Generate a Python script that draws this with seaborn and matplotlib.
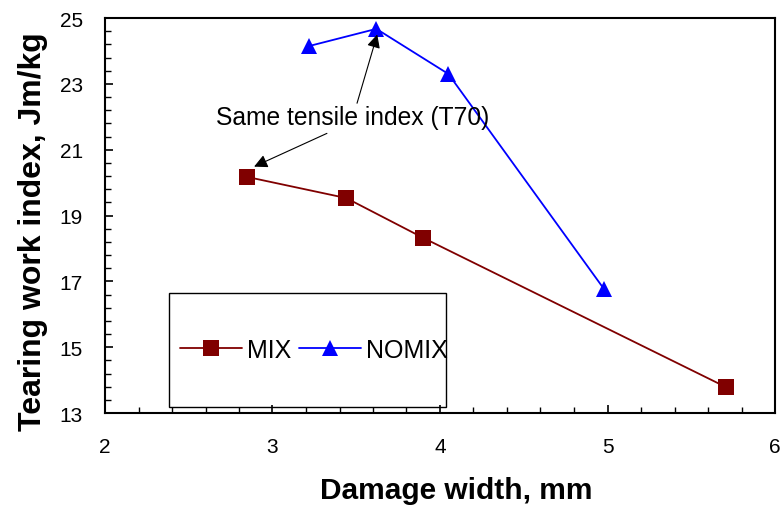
import matplotlib
matplotlib.use("Agg")
import matplotlib.pyplot as plt
import seaborn as sns
import pandas as pd
from matplotlib.ticker import FixedLocator, AutoMinorLocator
from matplotlib.lines import Line2D
from matplotlib.patches import Rectangle

mix_x = [2.85, 3.44, 3.90, 5.71]
mix_y = [20.17, 19.53, 18.32, 13.78]
nomix_x = [3.22, 3.62, 4.05, 4.98]
nomix_y = [24.15, 24.67, 23.30, 16.76]
x_ticks = [2, 3, 4, 5, 6]
y_ticks = [13, 15, 17, 19, 21, 23, 25]

df = pd.concat([
    pd.DataFrame({"x": mix_x, "y": mix_y, "series": "MIX"}),
    pd.DataFrame({"x": nomix_x, "y": nomix_y, "series": "NOMIX"}),
], ignore_index=True)

sns.set_style("ticks")
plt.rcParams["font.family"] = ["Liberation Sans", "DejaVu Sans"]
plt.rcParams["text.color"] = "black"
plt.rcParams["axes.labelcolor"] = "black"

fig = plt.figure(figsize=(7.8, 5.1), dpi=100)
ax = fig.add_axes([105/780, 1-414/510, 670/780, 395/510])

palette = {"MIX": "#800000", "NOMIX": "#0000FF"}
sns.lineplot(data=df, x="x", y="y", hue="series", style="series",
             markers={"MIX": "s", "NOMIX": "^"}, dashes=False,
             palette=palette, markersize=11, markeredgewidth=0,
             linewidth=1.3, sort=False, estimator=None, ax=ax, legend=False)

ax.set_xlim(2, 6)
ax.set_ylim(13, 25)
ax.xaxis.set_major_locator(FixedLocator(x_ticks))
ax.xaxis.set_minor_locator(AutoMinorLocator(5))
ax.yaxis.set_major_locator(FixedLocator(y_ticks))
ax.yaxis.set_minor_locator(AutoMinorLocator(5))
ax.tick_params(which="both", direction="in", top=False, right=False,
               colors="black", labelsize=15)
ax.tick_params(which="major", length=6, width=1.2)
ax.tick_params(which="minor", length=4.5, width=1.0)
ax.tick_params(axis="x", pad=17)
ax.tick_params(axis="y", pad=16)
for s in ax.spines.values():
    s.set_linewidth(1.5)
    s.set_color("black")

ax.set_xlabel("Damage width, mm", fontsize=21.5, fontweight="bold", labelpad=15)
ax.set_ylabel("Tearing work index, Jm/kg", fontsize=23, fontweight="bold", labelpad=8)
ax.xaxis.label.set_x(0.525)
ax.yaxis.label.set_y(0.461)

ax.text(3.479, 21.99, "Same tensile index (T70)", fontsize=17.7, ha="center", va="center")
arrow = dict(arrowstyle="-|>", color="black", lw=0.8, mutation_scale=20)
ax.annotate("", xy=(3.63, 24.58), xytext=(3.5, 22.33), arrowprops=arrow)
ax.annotate("", xy=(2.875, 20.45), xytext=(3.34, 21.53), arrowprops=arrow)

# legend box
ax.add_patch(Rectangle((2.381, 13.18), 1.655, 3.46, fill=False,
                       edgecolor="black", linewidth=1.0, zorder=3))
handles = [Line2D([], [], color="#800000", marker="s", markersize=11, markeredgewidth=0, lw=1.3),
           Line2D([], [], color="#0000FF", marker="^", markersize=11, markeredgewidth=0, lw=1.3)]
leg = ax.legend(handles, ["MIX", "NOMIX"], ncol=2, loc="center left",
                bbox_to_anchor=(2.446, 14.91), bbox_transform=ax.transData,
                fontsize=18, frameon=False, handlelength=2.5,
                columnspacing=0.3, handletextpad=0.2,
                borderaxespad=0, borderpad=0)

fig.savefig("out.png", dpi=100)
